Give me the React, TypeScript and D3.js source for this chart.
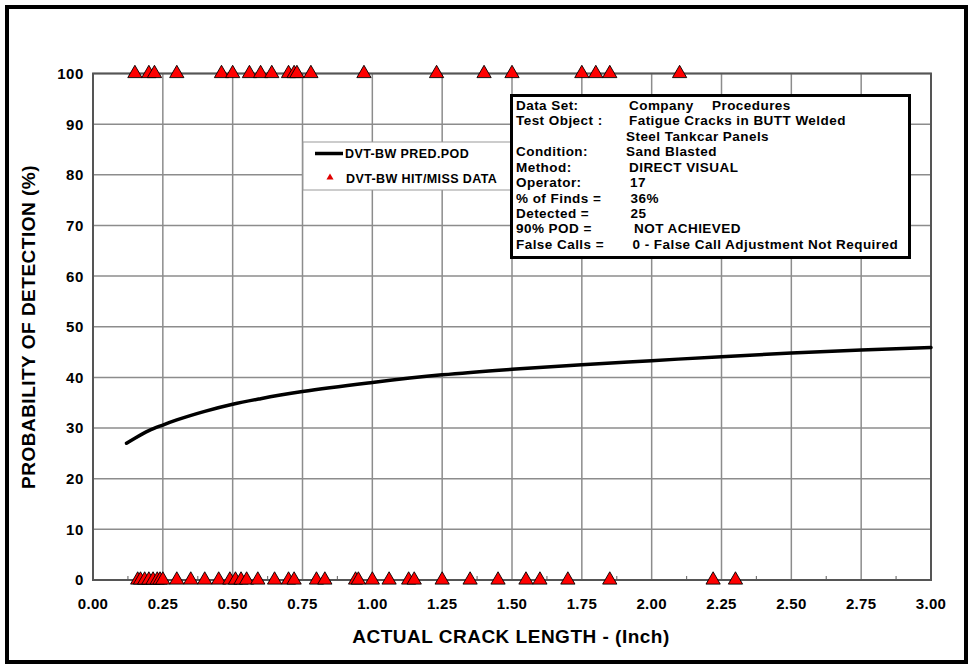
import React from "react";
import * as d3 from "d3";

const X_TICKS = [0, 0.25, 0.5, 0.75, 1.0, 1.25, 1.5, 1.75, 2.0, 2.25, 2.5, 2.75, 3.0];
const Y_TICKS = [0, 10, 20, 30, 40, 50, 60, 70, 80, 90, 100];

const curveX = [0.12, 0.15, 0.2, 0.25, 0.3, 0.4, 0.5, 0.6, 0.75, 1.0, 1.25, 1.5, 1.75, 2.0, 2.25, 2.5, 2.75, 3.0];
const curveY = [27.0, 28.0, 29.5, 30.6, 31.6, 33.3, 34.7, 35.8, 37.2, 39.0, 40.5, 41.6, 42.5, 43.3, 44.1, 44.8, 45.4, 45.9];

const hitX = [0.15, 0.2, 0.22, 0.3, 0.46, 0.5, 0.56, 0.6, 0.64, 0.7, 0.72, 0.73, 0.78, 0.97, 1.23, 1.4, 1.5, 1.75, 1.8, 1.85, 2.1];
const missX = [0.16, 0.17, 0.185, 0.2, 0.215, 0.23, 0.24, 0.25, 0.3, 0.35, 0.4, 0.45, 0.49, 0.51, 0.53, 0.55, 0.59, 0.65, 0.7, 0.72, 0.8, 0.83, 0.94, 0.95, 1.0, 1.06, 1.13, 1.15, 1.25, 1.35, 1.45, 1.55, 1.6, 1.7, 1.85, 2.22, 2.3];

const legendLabels = ["DVT-BW PRED.POD", "DVT-BW HIT/MISS DATA"];
const infoLabels = ["Data Set:", "Test Object :", "", "Condition:", "Method:", "Operator:", "% of Finds =", "Detected =", "90% POD =", "False Calls ="];
const infoValues = ["Company", "Fatigue Cracks in BUTT Welded", "Steel Tankcar Panels", "Sand Blasted", "DIRECT VISUAL", "17", "36%", "25", "NOT ACHIEVED", "0 - False Call Adjustment Not Required"];
const infoExtra = "Procedures";

const FONT = "'Liberation Sans', Arial, sans-serif";

export default function App() {
  const W = 973, H = 671;
  const x = d3.scaleLinear().domain([0, 3]).range([93, 931]);
  const y = d3.scaleLinear().domain([0, 100]).range([580, 73.5]);
  const line = d3.line<number>().x((d, i) => x(curveX[i])).y((d) => y(d)).curve(d3.curveMonotoneX);
  const tri = d3.symbol().type(d3.symbolTriangle).size(88)()!;
  const triSmall = d3.symbol().type(d3.symbolTriangle).size(22)()!;
  const minor = d3.range(0.125, 3, 0.25);
  const valueDx = [0, 0, -3, -3, 0, 1, 1.5, 1.5, 5, 3.5];

  return (
    <svg width={W} height={H} style={{ position: "absolute", left: 0, top: 0, background: "#fff" }} fontFamily={FONT}>
      <rect x={0} y={0} width={W} height={H} fill="#fff" />
      <rect x={7} y={7} width={959} height={655} fill="none" stroke="#000" strokeWidth={4} />
      {/* grid */}
      {X_TICKS.map((t) => (
        <line key={"gx" + t} x1={x(t)} x2={x(t)} y1={y(0)} y2={y(100)} stroke="#8c8c8c" strokeWidth={1.5} />
      ))}
      {Y_TICKS.map((t) => (
        <line key={"gy" + t} x1={x(0)} x2={x(3)} y1={y(t)} y2={y(t)} stroke="#8c8c8c" strokeWidth={1.5} />
      ))}
      {minor.map((t) => (
        <line key={"mx" + t} x1={x(t)} x2={x(t)} y1={y(0)} y2={y(0) - 4} stroke="#777" strokeWidth={1.2} />
      ))}
      <rect x={x(0)} y={y(100)} width={x(3) - x(0)} height={y(0) - y(100)} fill="none" stroke="#555" strokeWidth={2} />
      {/* tick labels */}
      {Y_TICKS.map((t) => (
        <text key={"ty" + t} x={84} y={y(t)} dy="0.36em" textAnchor="end" fontSize={15} fontWeight="bold" letterSpacing={0.6}>{t}</text>
      ))}
      {X_TICKS.map((t) => (
        <text key={"tx" + t} x={x(t)} y={609} textAnchor="middle" fontSize={15} fontWeight="bold" letterSpacing={0.3}>{t.toFixed(2)}</text>
      ))}
      <text x={511} y={643} textAnchor="middle" fontSize={19} fontWeight="bold" letterSpacing={0.5}>ACTUAL CRACK LENGTH - (Inch)</text>
      <text transform={`translate(35,327) rotate(-90)`} textAnchor="middle" fontSize={19} fontWeight="bold" letterSpacing={0.5}>PROBABILITY OF DETECTION (%)</text>
      {/* curve */}
      <path d={line(curveY) || ""} fill="none" stroke="#000" strokeWidth={3.5} strokeLinecap="round" />
      {/* points */}
      {missX.map((v, i) => (
        <path key={"m" + i} d={tri} transform={`translate(${x(v)},${y(0)})`} fill="#ff0000" stroke="#000" strokeWidth={0.9} />
      ))}
      {hitX.map((v, i) => (
        <path key={"h" + i} d={tri} transform={`translate(${x(v)},${y(100)})`} fill="#ff0000" stroke="#000" strokeWidth={0.9} />
      ))}
      {/* legend */}
      <rect x={303} y={142} width={208} height={48} fill="#fff" stroke="#9a9a9a" strokeWidth={1} />
      <line x1={315} x2={343} y1={153.5} y2={153.5} stroke="#000" strokeWidth={3.5} />
      <text x={345} y={153.5} dy="0.36em" fontSize={12.5} fontWeight="bold" letterSpacing={0.4}>{legendLabels[0]}</text>
      <path d={triSmall} transform="translate(330,177.5)" fill="#e00000" />
      <text x={346} y={178} dy="0.36em" fontSize={12.5} fontWeight="bold" letterSpacing={0.4}>{legendLabels[1]}</text>
      {/* info box */}
      <rect x={511.5} y={95.5} width={398} height={162} fill="#fff" stroke="#000" strokeWidth={3} />
      {infoLabels.map((lab, i) => (
        <g key={"info" + i}>
          <text x={516} y={105 + i * 15.45} dy="0.36em" fontSize={13.5} fontWeight="bold" letterSpacing={0.45}>{lab}</text>
          <text x={629 + valueDx[i]} y={105 + i * 15.45} dy="0.36em" fontSize={13.5} fontWeight="bold" letterSpacing={0.45}>{infoValues[i]}</text>
        </g>
      ))}
      <text x={712} y={105} dy="0.36em" fontSize={13.5} fontWeight="bold" letterSpacing={0.45}>{infoExtra}</text>
    </svg>
  );
}
